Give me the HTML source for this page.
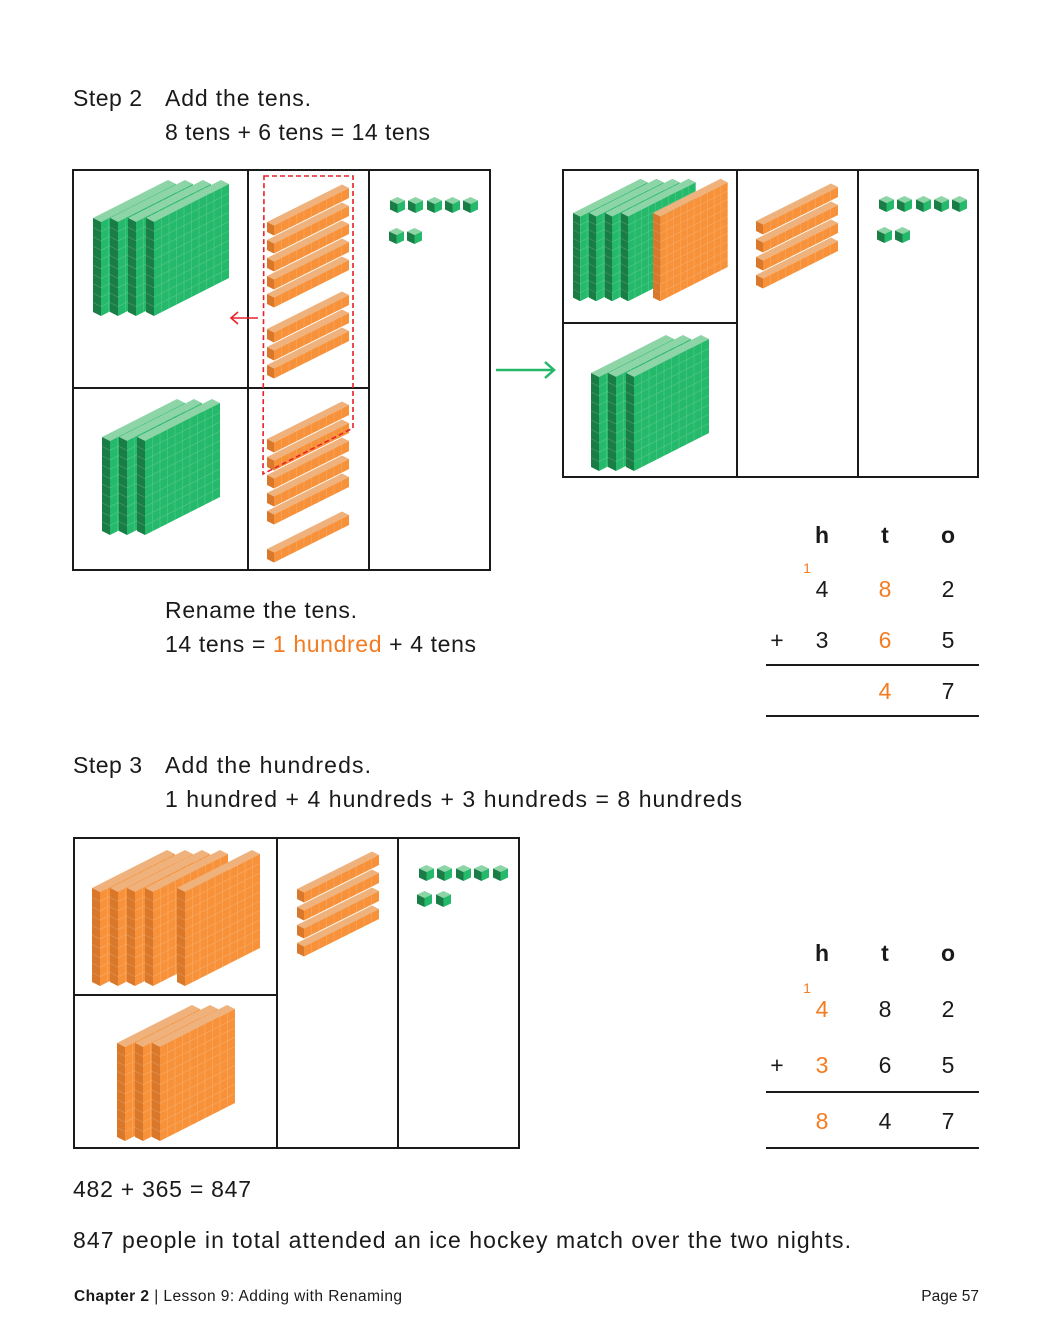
<!DOCTYPE html>
<html><head><meta charset="utf-8"><style>
html,body{margin:0;padding:0;background:#fff;}
svg{display:block;}
text{font-family:"Liberation Sans",sans-serif;fill:#1a1a1a;}
.o{fill:#f47b20;}
</style></head><body>
<svg width="1040" height="1330" viewBox="0 0 1040 1330" xmlns="http://www.w3.org/2000/svg">
<defs>
<path id="flatLines" fill="none" stroke="rgba(255,255,255,0.2)" stroke-width="0.7" d="M15.5,0.2V94.2M23,-3.6V90.4M30.5,-7.4V86.6M38,-11.2V82.8M45.5,-15V79M53,-18.8V75.2M60.5,-22.6V71.4M68,-26.4V67.6M75.5,-30.2V63.8M8,13.4L83,-24.6M8,22.8L83,-15.2M8,32.2L83,-5.8M8,41.6L83,3.6M8,51L83,13M8,60.4L83,22.4M8,69.8L83,31.8M8,79.2L83,41.2M8,88.6L83,50.6M0,9.4L8,13.4M0,18.8L8,22.8M0,28.2L8,32.2M0,37.6L8,41.6M0,47L8,51M0,56.4L8,60.4M0,65.8L8,69.8M0,75.2L8,79.2M0,84.6L8,88.6"/>
<g id="flatG">
<polygon points="0,0 8,4 83,-34 75,-38" fill="#8dd4a6"/>
<polygon points="0,0 8,4 8,98 0,94" fill="#1a7d45"/>
<polygon points="8,4 83,-34 83,60 8,98" fill="#25b96b"/>
<use href="#flatLines"/>
</g>
<g id="flatO">
<polygon points="0,0 8,4 83,-34 75,-38" fill="#f0b27c"/>
<polygon points="0,0 8,4 8,98 0,94" fill="#d9772a"/>
<polygon points="8,4 83,-34 83,60 8,98" fill="#f7923a"/>
<use href="#flatLines"/>
</g>
<g id="rod">
<polygon points="0,2 7,5.5 82,-32 75,-35.5" fill="#f0b27c"/>
<polygon points="0,2 7,5.5 7,15.5 0,12" fill="#d9772a"/>
<polygon points="7,5.5 82,-32 82,-22 7,15.5" fill="#f7923a"/>
<path fill="none" stroke="rgba(255,255,255,0.18)" stroke-width="0.7" d="M14.5,1.75V11.75M22,-2V8M29.5,-5.75V4.25M37,-9.5V0.5M44.5,-13.25V-3.25M52,-17V-7M59.5,-20.75V-10.75M67,-24.5V-14.5M74.5,-28.25V-18.25"/>
</g>
<g id="cube">
<polygon points="0,3.5 7.5,0 15,3.5 7.5,7" fill="#8dd4a6"/>
<polygon points="0,3.5 7.5,7 7.5,16 0,12.5" fill="#1a7d45"/>
<polygon points="7.5,7 15,3.5 15,12.5 7.5,16" fill="#25b96b"/>
</g>
</defs>

<text x="73" y="106" font-size="23" textLength="69">Step 2</text>
<text x="165" y="106" font-size="23" textLength="146">Add the tens.</text>
<text x="165" y="140" font-size="23" textLength="265">8 tens + 6 tens = 14 tens</text>

<g fill="none" stroke="#1a1a1a" stroke-width="2">
<rect x="73" y="170" width="417" height="400"/>
<line x1="248" y1="170" x2="248" y2="570"/>
<line x1="369" y1="170" x2="369" y2="570"/>
<line x1="73" y1="388" x2="369" y2="388"/>
</g>
<use href="#flatG" x="93" y="218"/><use href="#flatG" x="110" y="218"/><use href="#flatG" x="128" y="218"/><use href="#flatG" x="146" y="218"/>
<use href="#flatG" x="102" y="437"/><use href="#flatG" x="119" y="437"/><use href="#flatG" x="137" y="437"/>
<use href="#rod" x="267" y="220"/><use href="#rod" x="267" y="238"/><use href="#rod" x="267" y="256"/><use href="#rod" x="267" y="274"/><use href="#rod" x="267" y="292"/>
<use href="#rod" x="267" y="327"/><use href="#rod" x="267" y="345"/><use href="#rod" x="267" y="363"/>
<use href="#rod" x="267" y="437"/><use href="#rod" x="267" y="455"/><use href="#rod" x="267" y="473"/><use href="#rod" x="267" y="491"/><use href="#rod" x="267" y="509"/>
<use href="#rod" x="267" y="547"/>
<polygon points="264,176 353,176 353,428 263,474" fill="none" stroke="#e8212b" stroke-width="1.6" stroke-dasharray="5,3"/>
<g stroke="#e8212b" stroke-width="1.6" fill="none"><line x1="258" y1="318" x2="231" y2="318"/><polyline points="238,312 231,318 238,324"/></g>
<use href="#cube" x="390" y="197"/><use href="#cube" x="408" y="197"/><use href="#cube" x="427" y="197"/><use href="#cube" x="445" y="197"/><use href="#cube" x="463" y="197"/>
<use href="#cube" x="389" y="228"/><use href="#cube" x="407" y="228"/>

<g stroke="#22b868" stroke-width="2.5" fill="none"><line x1="496" y1="370" x2="554" y2="370"/><polyline points="545,362 554,370 545,378"/></g>

<g fill="none" stroke="#1a1a1a" stroke-width="2">
<rect x="563" y="170" width="415" height="307"/>
<line x1="737" y1="170" x2="737" y2="477"/>
<line x1="858" y1="170" x2="858" y2="477"/>
<line x1="563" y1="323" x2="737" y2="323"/>
</g>
<use href="#flatG" transform="translate(573,213) scale(0.9)"/><use href="#flatG" transform="translate(589,213) scale(0.9)"/><use href="#flatG" transform="translate(605,213) scale(0.9)"/><use href="#flatG" transform="translate(621,213) scale(0.9)"/>
<use href="#flatO" transform="translate(653,213) scale(0.9)"/>
<use href="#flatG" x="591" y="373"/><use href="#flatG" x="608" y="373"/><use href="#flatG" x="626" y="373"/>
<use href="#rod" x="756" y="219"/><use href="#rod" x="756" y="237"/><use href="#rod" x="756" y="255"/><use href="#rod" x="756" y="273"/>
<use href="#cube" x="879" y="196"/><use href="#cube" x="897" y="196"/><use href="#cube" x="916" y="196"/><use href="#cube" x="934" y="196"/><use href="#cube" x="952" y="196"/>
<use href="#cube" x="877" y="227"/><use href="#cube" x="895" y="227"/>

<text x="165" y="618" font-size="23" textLength="192">Rename the tens.</text>
<text x="165" y="652" font-size="23" textLength="311">14 tens = <tspan class="o">1 hundred</tspan> + 4 tens</text>

<g font-size="23" text-anchor="middle">
<text x="822" y="543" font-weight="bold">h</text><text x="885" y="543" font-weight="bold">t</text><text x="948" y="543" font-weight="bold">o</text>
<text x="807" y="573" font-size="14" class="o">1</text>
<text x="822" y="597">4</text><text x="885" y="597" class="o">8</text><text x="948" y="597">2</text>
<text x="777" y="648">+</text><text x="822" y="648">3</text><text x="885" y="648" class="o">6</text><text x="948" y="648">5</text>
<text x="885" y="699" class="o">4</text><text x="948" y="699">7</text>
</g>
<line x1="766" y1="665" x2="979" y2="665" stroke="#1a1a1a" stroke-width="2"/>
<line x1="766" y1="716" x2="979" y2="716" stroke="#1a1a1a" stroke-width="2"/>

<text x="73" y="773" font-size="23" textLength="69">Step 3</text>
<text x="165" y="773" font-size="23" textLength="206">Add the hundreds.</text>
<text x="165" y="807" font-size="23" textLength="577">1 hundred + 4 hundreds + 3 hundreds = 8 hundreds</text>

<g fill="none" stroke="#1a1a1a" stroke-width="2">
<rect x="74" y="838" width="445" height="310"/>
<line x1="277" y1="838" x2="277" y2="1148"/>
<line x1="398" y1="838" x2="398" y2="1148"/>
<line x1="74" y1="995" x2="277" y2="995"/>
</g>
<use href="#flatO" x="92" y="888"/><use href="#flatO" x="110" y="888"/><use href="#flatO" x="127" y="888"/><use href="#flatO" x="145" y="888"/><use href="#flatO" x="177" y="888"/>
<use href="#flatO" x="117" y="1043"/><use href="#flatO" x="135" y="1043"/><use href="#flatO" x="152" y="1043"/>
<use href="#rod" x="297" y="887"/><use href="#rod" x="297" y="905"/><use href="#rod" x="297" y="923"/><use href="#rod" x="297" y="941"/>
<use href="#cube" x="419" y="865"/><use href="#cube" x="437" y="865"/><use href="#cube" x="456" y="865"/><use href="#cube" x="474" y="865"/><use href="#cube" x="493" y="865"/>
<use href="#cube" x="417" y="891"/><use href="#cube" x="436" y="891"/>

<g font-size="23" text-anchor="middle">
<text x="822" y="961" font-weight="bold">h</text><text x="885" y="961" font-weight="bold">t</text><text x="948" y="961" font-weight="bold">o</text>
<text x="807" y="993" font-size="14" class="o">1</text>
<text x="822" y="1017" class="o">4</text><text x="885" y="1017">8</text><text x="948" y="1017">2</text>
<text x="777" y="1073">+</text><text x="822" y="1073" class="o">3</text><text x="885" y="1073">6</text><text x="948" y="1073">5</text>
<text x="822" y="1129" class="o">8</text><text x="885" y="1129">4</text><text x="948" y="1129">7</text>
</g>
<line x1="766" y1="1092" x2="979" y2="1092" stroke="#1a1a1a" stroke-width="2"/>
<line x1="766" y1="1148" x2="979" y2="1148" stroke="#1a1a1a" stroke-width="2"/>

<text x="73" y="1197" font-size="23" textLength="178">482 + 365 = 847</text>
<text x="73" y="1248" font-size="23" textLength="778">847 people in total attended an ice hockey match over the two nights.</text>

<text x="74" y="1301" font-size="15.5" textLength="328"><tspan font-weight="bold">Chapter 2</tspan> | Lesson 9: Adding with Renaming</text>
<text x="979" y="1301" font-size="15.5" text-anchor="end">Page 57</text>
</svg>
</body></html>
